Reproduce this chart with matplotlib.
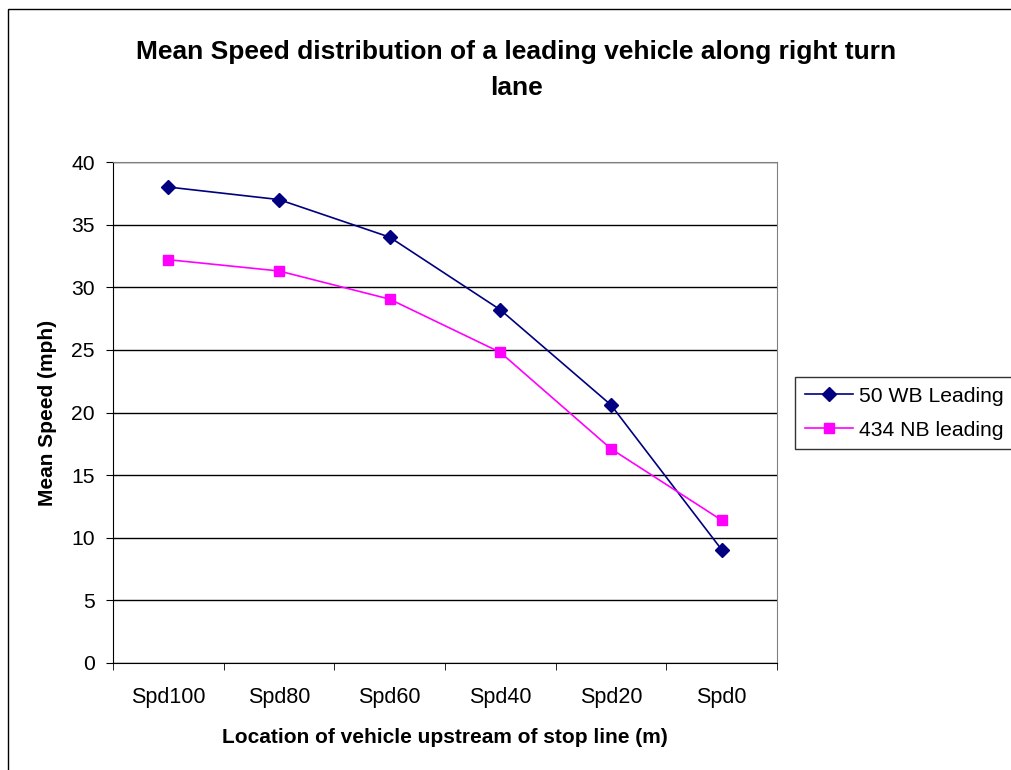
import matplotlib.pyplot as plt
from matplotlib.patches import Rectangle
import numpy as np

# data
categories = ['Spd100', 'Spd80', 'Spd60', 'Spd40', 'Spd20', 'Spd0']
wb50_leading = [38.0, 37.0, 34.0, 28.2, 20.6, 9.05]
nb434_leading = [32.2, 31.3, 29.05, 24.8, 17.1, 11.4]
y_ticks = [0, 5, 10, 15, 20, 25, 30, 35, 40]

plt.rcParams['font.family'] = ['Liberation Sans', 'DejaVu Sans']

W, H = 1011, 770
fig = plt.figure(figsize=(W / 100, H / 100), dpi=100)
ax = fig.add_axes([113 / W, 1 - 663 / H, (777 - 113) / W, (663 - 162) / H])

# chart-area border (cut off at right and bottom like the source)
fig.patches.append(Rectangle((8 / W, -0.1), 1.2, 1 - 9 / H + 0.1,
                             transform=fig.transFigure, fill=False,
                             edgecolor='black', linewidth=1.0))

x = np.arange(len(categories))
ax.plot(x, wb50_leading, color='#000080', marker='D', markersize=7,
        linewidth=1.2, label='50 WB Leading')
ax.plot(x, nb434_leading, color='#FF00FF', marker='s', markersize=7,
        linewidth=1.2, label='434 NB leading')

ax.set_xlim(-0.5, len(categories) - 0.5)
ax.set_ylim(0, 40)
ax.set_yticks(y_ticks)
ax.yaxis.grid(True, color='black', linewidth=1.0)
ax.set_axisbelow(True)

ax.set_xticks(x)
ax.set_xticklabels(categories)
ax.set_xticks(np.arange(-0.5, len(categories)), minor=True)
ax.tick_params(axis='x', which='major', length=0, pad=17, labelsize=15.5)
ax.tick_params(axis='x', which='minor', length=5, direction='out', color='black')
ax.tick_params(axis='y', length=5, direction='out', pad=8, labelsize=15.2)

for side in ['top', 'right']:
    ax.spines[side].set_color('#808080')
for side in ['left', 'bottom']:
    ax.spines[side].set_color('black')

ax.set_ylabel('Mean Speed (mph)', fontsize=15, fontweight='bold', labelpad=10)
ax.set_xlabel('Location of vehicle upstream of stop line (m)', fontsize=15,
              fontweight='bold', labelpad=15)

fig.text(516 / W, 1 - 70 / H,
         'Mean Speed distribution of a leading vehicle along right turn\nlane',
         ha='center', va='center', fontsize=19, fontweight='bold',
         linespacing=1.6)

leg = ax.legend(loc='upper left', bbox_to_anchor=(795 / W, 1 - 377 / H),
                bbox_transform=fig.transFigure, fontsize=15.2, frameon=True,
                fancybox=False, edgecolor='black', borderaxespad=0,
                handlelength=2.3, handletextpad=0.28, borderpad=0.45,
                labelspacing=0.72)
leg.get_frame().set_linewidth(1.0)

fig.savefig('out.png', dpi=100)
